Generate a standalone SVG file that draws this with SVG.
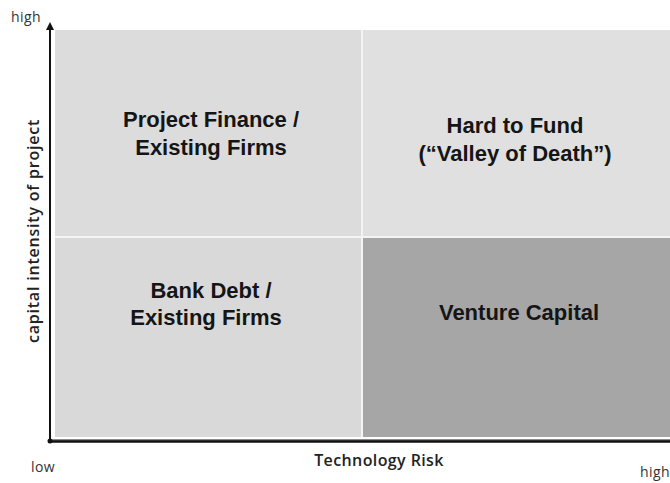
<svg xmlns="http://www.w3.org/2000/svg" width="670" height="483" viewBox="0 0 670 483">
  <style>
    .quad { font-family: "Liberation Sans", Arial, sans-serif; font-weight: bold; font-size: 22px; fill: #151515; text-anchor: middle; }
    .axis { font-family: "Open Sans", "Liberation Sans", sans-serif; font-size: 14px; letter-spacing: 0.4px; fill: #333; }
    .axisTitle { font-family: "Open Sans", "Liberation Sans", sans-serif; font-size: 16px; font-weight: 600; fill: #222; text-anchor: middle; }
  </style>
  <defs>
    <marker id="arrow" viewBox="0 0 10 10" refX="5" refY="5" markerWidth="4" markerHeight="4" orient="auto-start-reverse">
      <path d="M0,0 L10,5 L0,10 z" fill="#111"/>
    </marker>
  </defs>
  <rect width="670" height="483" fill="#ffffff"/>

  <!-- quadrants -->
  <g id="q-project-finance">
    <rect x="55" y="30" width="307" height="207" fill="#dcdcdc"/>
    <text class="quad" x="211" y="127">Project Finance /</text>
    <text class="quad" x="211" y="155">Existing Firms</text>
  </g>
  <g id="q-hard-to-fund">
    <rect x="362" y="30" width="308" height="207" fill="#e0e0e0"/>
    <text class="quad" x="515" y="133">Hard to Fund</text>
    <text class="quad" x="515" y="161">(“Valley of Death”)</text>
  </g>
  <g id="q-bank-debt">
    <rect x="55" y="237" width="307" height="200" fill="#d9d9d9"/>
    <text class="quad" x="211" y="298">Bank Debt /</text>
    <text class="quad" x="206" y="325">Existing Firms</text>
  </g>
  <g id="q-venture-capital">
    <rect x="362" y="237" width="308" height="200" fill="#a6a6a6"/>
    <text class="quad" x="519" y="320">Venture Capital</text>
  </g>

  <!-- quadrant dividers -->
  <g id="dividers" stroke="#f4f4f4" stroke-width="2">
    <line x1="362" y1="30" x2="362" y2="437"/>
    <line x1="55" y1="237" x2="670" y2="237"/>
  </g>

  <!-- axes -->
  <g id="axes" stroke="#111" fill="none">
    <line x1="50" y1="441" x2="50" y2="26" stroke-width="2" marker-end="url(#arrow)"/>
    <line x1="50" y1="440" x2="670" y2="440" stroke="#8a8a8a" stroke-width="2"/>
    <line x1="50" y1="441.5" x2="670" y2="441.5" stroke-width="2.5"/>
    <circle cx="50" cy="441" r="2.5" fill="#111" stroke="none"/>
  </g>

  <!-- axis labels -->
  <g id="labels">
    <text class="axis" x="11" y="22">high</text>
    <text class="axis" x="31" y="472">low</text>
    <text class="axis" x="640" y="477">high</text>
    <text class="axisTitle" x="379" y="466" letter-spacing="0.4">Technology Risk</text>
    <text class="axisTitle" transform="translate(39,231) rotate(-90)" letter-spacing="0.8">capital intensity of project</text>
  </g>
</svg>
